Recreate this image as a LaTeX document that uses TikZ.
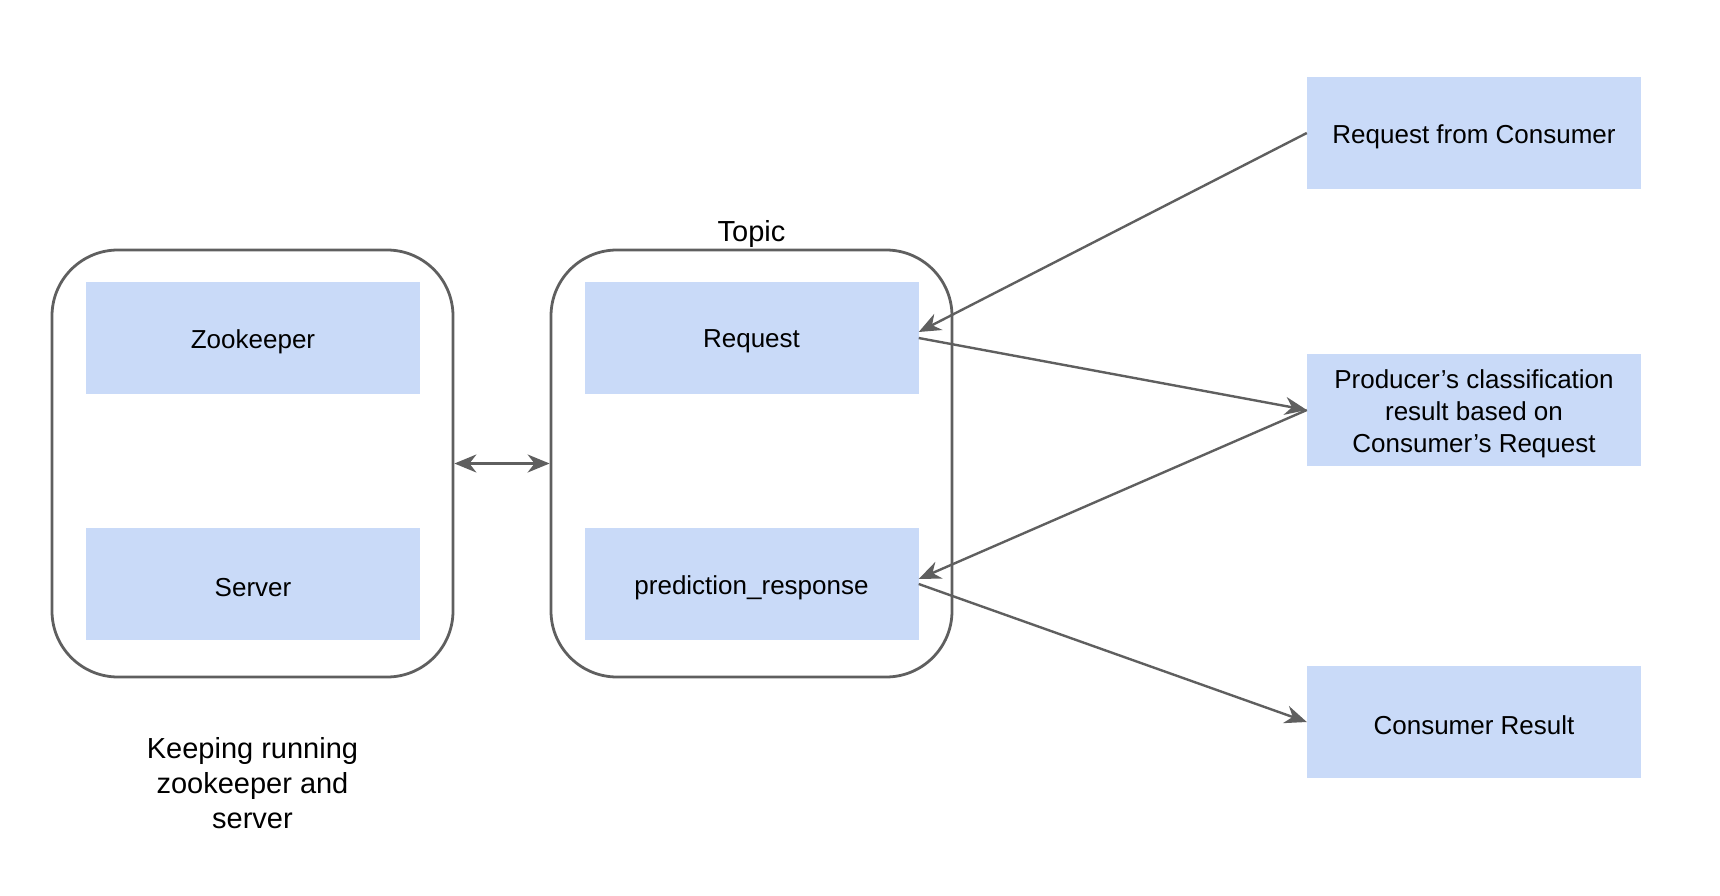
\documentclass[tikz,border=0pt]{standalone}
\usepackage{fontspec}
\setmainfont{Liberation Sans}
\usetikzlibrary{arrows.meta}
\definecolor{boxfill}{HTML}{C9DAF8}
\definecolor{linegray}{HTML}{5F5F5F}
\begin{document}
\begin{tikzpicture}[x=1pt,y=-1pt,
  bluebox/.style={fill=boxfill, draw=none, minimum width=334pt, minimum height=112pt,
    inner sep=0pt,
    label={[align=center, yshift=-3.5pt, font=\fontsize{26}{32}\selectfont]center:#1}},
  group/.style={draw=linegray, line width=2.8pt, rounded corners=66pt,
    minimum width=401pt, minimum height=427pt, inner sep=0pt},
  tip/.style={Stealth[length=22pt, width=18pt, inset=7pt]},
  arr/.style={draw=linegray, line width=2.4pt, -{Stealth[length=22pt, width=18pt, inset=7pt]}},
  biarr/.style={draw=linegray, line width=2.4pt,
    {Stealth[length=22pt, width=18pt, inset=7pt]}-{Stealth[length=22pt, width=18pt, inset=7pt]}},
  caption/.style={align=center, font=\fontsize{29}{35}\selectfont}]
\useasboundingbox (0,0) rectangle (1720,896);

% containers
\node[group] (left) at (252.5,463.5) {};
\node[group] (mid) at (751.5,463.5) {};
\node[caption] (topic) at (751.5,234) {Topic};
\node[caption] (keep) at (252.5,783) {Keeping running\\zookeeper and\\server};

% boxes inside containers
\node[bluebox={Zookeeper}] (zk) at (253,338) {};
\node[bluebox={Server}] (srv) at (253,584) {};
\node[bluebox={Request}] (req) at (751.5,338) {};
\node[bluebox={prediction\_response}] (pred) at (751.5,584) {};

% boxes on the right
\node[bluebox={Request from Consumer}] (rfc) at (1474,133) {};
\node[bluebox={Producer’s classification\\result based on\\Consumer’s Request}] (prod) at (1474,410) {};
\node[bluebox={Consumer Result}] (cr) at (1474,722) {};

% connectors
\draw[biarr] (left.east) -- (mid.west);
\draw[arr] (rfc.west) -- ([yshift=6pt]req.east);
\draw[arr] (req.east) -- (prod.west);
\draw[arr] (prod.west) -- ([yshift=5pt]pred.east);
\draw[arr] (pred.east) -- (cr.west);
\end{tikzpicture}
\end{document}
